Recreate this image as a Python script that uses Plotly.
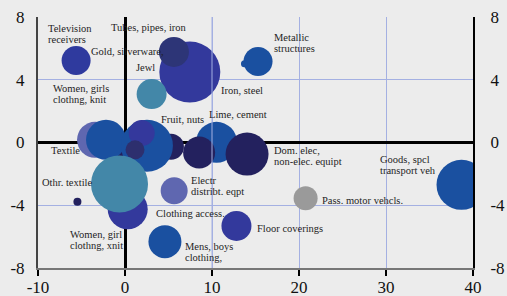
import plotly.graph_objects as go

# ---------------- data ----------------
bubble_names = ["Iron, steel", "Tubes, pipes, iron", "Jewl", "Television receivers",
                "Metallic structures", "Metallic (minor)", "Lime, cement", "Non-elec. machinery",
                "Dom. elec, non-elec. equipt", "Fruit, nuts (navy)", "Textile (minor)",
                "Textile (light)", "Textile", "Fruit, nuts", "Gold, silverware",
                "Women, girls clothng, knit", "Women, girl clothng, xnit", "Othr. textile",
                "Electr distribt. eqpt", "Mens, boys clothing", "Othr. textile (minor)",
                "Pass. motor vehcls.", "Floor coverings", "Goods, spcl transport veh"]
bubble_x = [7.45, 5.62, 3.06, -5.62, 15.29, 13.73, 10.52, 8.52, 14.03, 5.28, -0.57,
            -3.44, -2.18, 2.52, 1.92, 1.15, 0.31, -0.63, 5.65, 4.59, -5.47, 20.76, 12.81, 38.68]
bubble_y = [4.49, 5.77, 3.09, 5.23, 5.17, 5.02, 0.01, -0.64, -0.74, -0.27, -0.85,
            0.17, 0.17, -0.21, 0.60, -0.47, -4.25, -2.64, -3.08, -6.32, -3.78, -3.55, -5.32, -2.70]
bubble_size = [61, 30, 30, 29, 29, 7, 41, 32, 43, 26, 16,
               36, 40, 52, 26, 19, 40, 57, 27, 33, 8, 24, 30, 50]
bubble_color = ["#33399c", "#2d3577", "#4387a8", "#2f3a9e", "#1a50a0", "#1a50a0",
                "#1a50a0", "#23215e", "#23215e", "#23215e", "#23215e",
                "#5f67b0", "#1a50a0", "#1a50a0", "#34389c", "#2d2f6e",
                "#33399c", "#4387a8", "#5f67b0", "#1a50a0", "#23215e",
                "#9a9a9a", "#33399c", "#1a50a0"]

label_lines = [["Television", "receivers"], ["Gold, silverware,"], ["Tubes, pipes, iron"],
               ["Jewl"], ["Women, girls", "clothng, knit"], ["Metallic", "structures"],
               ["Iron, steel"], ["Lime, cement"], ["Fruit, nuts"], ["Textile"],
               ["Othr. textile"], ["Women, girl", "clothng, xnit"], ["Clothing access."],
               ["Electr", "distribt. eqpt"], ["Dom. elec,", "non-elec. equipt"],
               ["Pass. motor vehcls."], ["Floor coverings"], ["Mens, boys", "clothing,"],
               ["Goods, spcl", "transport veh"]]
label_x = [-9.09, -4.09, -1.80, 1.03, -8.52, 16.89, 10.81, 9.48, 3.94, -8.68,
           -9.75, -6.50, 3.33, 7.38, 16.89, 22.36, 14.91, 6.62, 29.05]
label_y = [6.92, 5.81, 7.30, 4.75, 3.10, 6.36, 3.30, 1.77, 1.49, -0.51,
           -2.55, -6.21, -4.51, -2.78, -0.86, -3.70, -5.46, -7.00, -1.42]

x_ticks = [-10, 0, 10, 20, 30, 40]
y_ticks = [-8, -4, 0, 4, 8]

# ---------------- figure ----------------
BG = "#ececec"
GRID = "#a4b0e2"
FONT = "Liberation Serif, Times New Roman, serif"

fig = go.Figure()
fig.add_trace(go.Scatter(
    x=bubble_x, y=bubble_y, mode="markers", text=bubble_names,
    marker=dict(size=bubble_size, sizemode="diameter", color=bubble_color,
                line=dict(width=0), opacity=1),
    showlegend=False, hoverinfo="text", cliponaxis=True))
fig.add_trace(go.Scatter(x=[None], y=[None], yaxis="y2", showlegend=False, hoverinfo="skip"))

annotations = []
for lines, lx, ly in zip(label_lines, label_x, label_y):
    n = len(lines)
    for i, t in enumerate(lines):
        annotations.append(dict(
            x=lx, y=ly, xref="x", yref="y", text=t, showarrow=False,
            xanchor="left", yanchor="middle", yshift=((n - 1) / 2 - i) * 11,
            font=dict(family=FONT, size=10.5, color="#1e1e1e")))

fig.update_layout(
    width=507, height=296,
    margin=dict(l=37.5, r=33.7, t=17.3, b=28, autoexpand=False),
    paper_bgcolor=BG, plot_bgcolor=BG,
    font=dict(family=FONT, size=17, color="#111"),
    annotations=annotations,
    shapes=[dict(type="line", xref="x", yref="paper", x0=10, x1=10, y0=0, y1=1,
                 line=dict(color=GRID, width=1), layer="above")],
    xaxis=dict(range=[-10, 40], tickvals=x_ticks, ticktext=[str(v) for v in x_ticks],
               showgrid=True, gridcolor=GRID, gridwidth=1, automargin=False,
               zeroline=True, zerolinecolor="#000", zerolinewidth=2.5,
               showline=True, linecolor="#777", linewidth=2,
               ticks="outside", ticklen=6, tickwidth=2, tickcolor="#000",
               ticklabelstandoff=-3,
               tickfont=dict(size=17, family=FONT), fixedrange=True),
    yaxis=dict(range=[-8, 8], tickvals=y_ticks, ticktext=[str(v) for v in y_ticks],
               showgrid=True, gridcolor=GRID, gridwidth=1, automargin=False,
               zeroline=True, zerolinecolor="#000", zerolinewidth=2.5,
               showline=True, linecolor="#444", linewidth=2,
               ticks="", ticklabelstandoff=8,
               tickfont=dict(size=17, family=FONT), fixedrange=True),
    yaxis2=dict(range=[-8, 8], tickvals=y_ticks, ticktext=[str(v) for v in y_ticks],
                overlaying="y", side="right", anchor="x", automargin=False,
                showgrid=False, zeroline=False,
                showline=True, linecolor="#000", linewidth=2,
                ticks="", ticklabelstandoff=12,
                tickfont=dict(size=17, family=FONT), fixedrange=True),
)

fig.write_html("out.html", config={"displayModeBar": False},
               post_script="document.body.style.margin='0';document.body.style.background='#ececec';")
